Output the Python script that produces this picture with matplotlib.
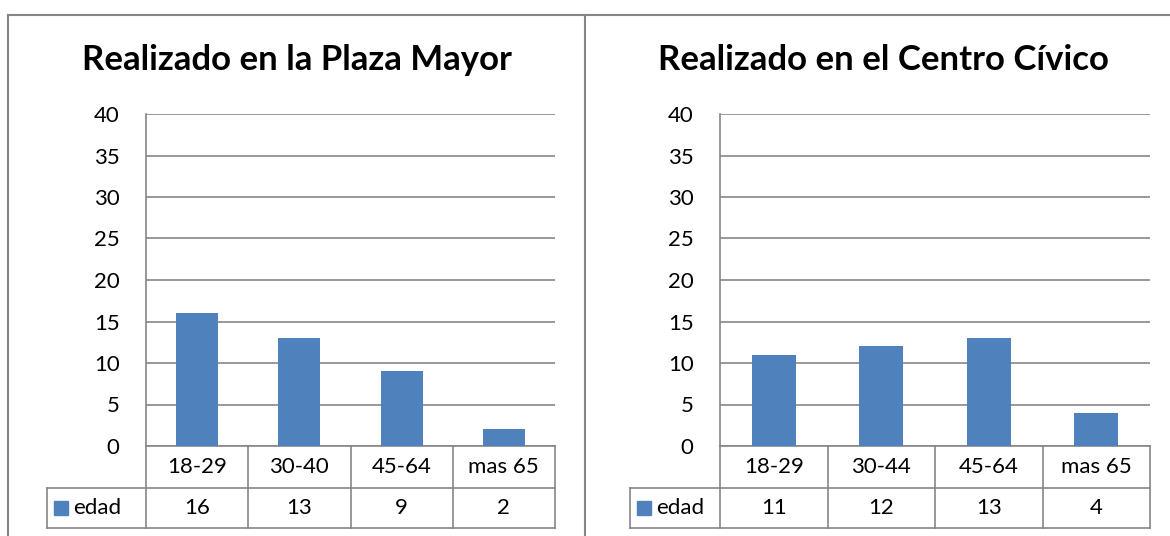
import matplotlib.pyplot as plt
from matplotlib.lines import Line2D
import matplotlib.transforms as mtransforms

plt.rcParams['font.family'] = ['Lato', 'DejaVu Sans']

# datos
titulos = ["Realizado en la Plaza Mayor", "Realizado en el Centro Cívico"]
categorias_plaza = ["18-29", "30-40", "45-64", "mas 65"]
categorias_centro = ["18-29", "30-44", "45-64", "mas 65"]
edad_plaza = [16, 13, 9, 2]
edad_centro = [11, 12, 13, 4]
serie = "edad"
yticks = [0, 5, 10, 15, 20, 25, 30, 35, 40]

W, H = 1170, 536
azul = "#4f81bd"
gris = "#868686"

fig = plt.figure(figsize=(W / 100, H / 100), dpi=100)

# marcos de los graficos
for seg in [([8, W], [15, 15]), ([8, 8], [15, H]), ([585, 585], [15, H])]:
    fig.add_artist(Line2D([x / W for x in seg[0]], [1 - y / H for y in seg[1]],
                          color=gris, lw=1.5, transform=fig.transFigure))


def panel(x0, x1, leg_x0, title_x, titulo, cats, vals):
    y_top, y_bot = 114, 446
    ax = fig.add_axes([x0 / W, 1 - y_bot / H, (x1 - x0) / W, (y_bot - y_top) / H])
    n = len(cats)
    ax.bar(range(n), vals, width=0.41, color=azul, zorder=3)
    ax.set_xlim(-0.5, n - 0.5)
    ax.set_ylim(0, 40)
    ax.set_yticks(yticks)
    ax.set_yticklabels([str(t) for t in yticks], fontsize=16)
    ax.tick_params(axis='y', length=0, pad=19)
    ax.set_xticks([])
    ax.grid(axis='y', color=gris, lw=1.2, zorder=0)
    for s in ['right', 'bottom', 'top']:
        ax.spines[s].set_visible(False)
    ax.spines['left'].set_color(gris)
    ax.spines['left'].set_linewidth(1.2)

    # tabla de datos
    tr = mtransforms.blended_transform_factory(ax.transData, ax.transAxes)
    ph = y_bot - y_top
    r1 = -(488 - y_bot) / ph
    r2 = -(528 - y_bot) / ph
    unit = (x1 - x0) / n
    lx = -0.5 - (x0 - leg_x0) / unit
    kw = dict(color=gris, lw=1.2, transform=tr, clip_on=False)
    ax.add_artist(Line2D([-0.5, n - 0.5], [0, 0], **kw))
    ax.add_artist(Line2D([lx, n - 0.5], [r1, r1], **kw))
    ax.add_artist(Line2D([lx, n - 0.5], [r2, r2], **kw))
    ax.add_artist(Line2D([lx, lx], [r1, r2], **kw))
    for i in range(n + 1):
        ax.add_artist(Line2D([i - 0.5, i - 0.5], [0, r2], **kw))
    for i, (c, v) in enumerate(zip(cats, vals)):
        ax.text(i, r1 / 2, c, transform=tr, ha='center', va='center', fontsize=16)
        ax.text(i, (r1 + r2) / 2, str(v), transform=tr, ha='center', va='center', fontsize=16)
    ax.plot([lx + 14 / unit], [(r1 + r2) / 2], marker='s', markersize=10, color=azul,
            transform=tr, clip_on=False, ls='none')
    ax.text(lx + 26 / unit, (r1 + r2) / 2, serie, transform=tr, ha='left', va='center',
            fontsize=16)

    fig.text(title_x / W, 1 - 60 / H, titulo, ha='center', va='center',
             fontsize=25, fontweight='bold')


panel(146, 555, 47, 297, titulos[0], categorias_plaza, edad_plaza)
panel(720, 1150, 630, 883, titulos[1], categorias_centro, edad_centro)

fig.savefig("out.png", dpi=100)
